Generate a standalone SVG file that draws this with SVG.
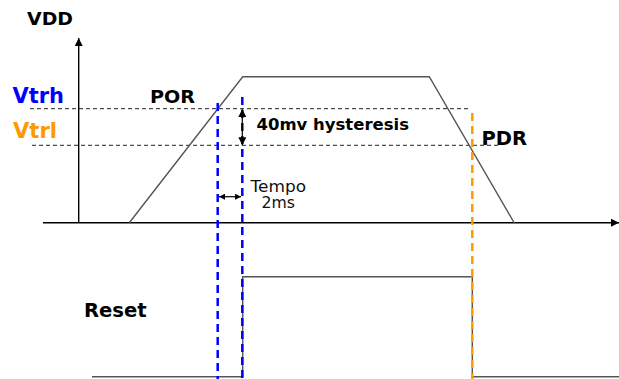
<svg xmlns="http://www.w3.org/2000/svg" width="619" height="379" viewBox="0 0 619 379">
<style>
.b{font-family:"DejaVu Sans",Verdana,sans-serif;font-weight:bold;fill:#000}
.r{font-family:"DejaVu Sans",Verdana,sans-serif;fill:#111}
.ax{stroke:#000;stroke-width:1.4;fill:none}
.sig{stroke:#555;stroke-width:1.4;fill:none}
.th{stroke:#222;stroke-width:1;stroke-dasharray:4 3;fill:none}
.bl{stroke:#0000ff;stroke-width:2.5;stroke-dasharray:8 5;fill:none}
.or{stroke:#ff9900;stroke-width:2.5;stroke-dasharray:8 5;fill:none}
</style>
<defs>
<marker id="ah" viewBox="0 0 10 10" refX="10" refY="5" markerWidth="9" markerHeight="8" markerUnits="userSpaceOnUse" orient="auto-start-reverse"><path d="M0,0L10,5L0,10z" fill="#000"/></marker>
<marker id="ahs" viewBox="0 0 10 10" refX="10" refY="5" markerWidth="6" markerHeight="6" markerUnits="userSpaceOnUse" orient="auto-start-reverse"><path d="M0,0L10,5L0,10z" fill="#000"/></marker>
<marker id="ahv" viewBox="0 0 10 10" refX="10" refY="5" markerWidth="10" markerHeight="8" markerUnits="userSpaceOnUse" orient="auto-start-reverse"><path d="M0,0L10,5L0,10z" fill="#000"/></marker>
</defs>
<rect width="619" height="379" fill="#fff"/>
<g id="axes">
<line class="ax" x1="78.7" y1="223" x2="78.7" y2="38" marker-end="url(#ah)"/>
<line class="ax" x1="43" y1="222.7" x2="619" y2="222.7" marker-end="url(#ah)"/>
<text class="b" x="27" y="25" font-size="18.5" textLength="46" lengthAdjust="spacingAndGlyphs">VDD</text>
</g>
<g id="thresholds">
<line class="th" x1="30" y1="108.7" x2="470" y2="108.7"/>
<line class="th" x1="32" y1="145.3" x2="500" y2="145.3"/>
<text x="12.5" y="103.3" font-size="21" class="b" style="fill:#0000ff" textLength="51.5" lengthAdjust="spacingAndGlyphs">Vtrh</text>
<text x="13" y="137.5" font-size="21" class="b" style="fill:#ff9900" textLength="44" lengthAdjust="spacingAndGlyphs">Vtrl</text>
</g>
<g id="vdd-curve">
<polyline class="sig" points="129.3,222.7 242.7,76.7 429.3,76.7 514.3,223"/>
</g>
<g id="reset-signal">
<polyline class="sig" points="92,376.7 242.7,376.7 242.7,276.7 472.3,276.7 472.3,376.7 619,376.7"/>
<text class="b" x="84" y="317.3" font-size="19.5" textLength="62.7" lengthAdjust="spacingAndGlyphs">Reset</text>
</g>
<g id="markers">
<line class="bl" x1="217.7" y1="103" x2="217.7" y2="379"/>
<line class="bl" x1="242.3" y1="97" x2="242.3" y2="379"/>
<line class="or" x1="472.3" y1="113" x2="472.3" y2="379"/>
</g>
<g id="connectors">
<line stroke="#000" stroke-width="1.2" x1="242.3" y1="109" x2="242.3" y2="145.3" marker-start="url(#ahv)" marker-end="url(#ahv)"/>
<line stroke="#000" stroke-width="1.2" x1="219" y1="196.7" x2="241" y2="196.7" marker-start="url(#ahs)" marker-end="url(#ahs)"/>
</g>
<g id="labels">
<text class="b" x="150" y="102.7" font-size="18.5" textLength="45" lengthAdjust="spacingAndGlyphs">POR</text>
<text class="b" x="481.5" y="145" font-size="19.5" textLength="45.6" lengthAdjust="spacingAndGlyphs">PDR</text>
<text class="b" x="256.5" y="130" font-size="16.4" textLength="152.5" lengthAdjust="spacingAndGlyphs">40mv hysteresis</text>
<text class="r" x="250.5" y="191.7" font-size="15.5" textLength="55.5" lengthAdjust="spacingAndGlyphs">Tempo</text>
<text class="r" x="261.5" y="208" font-size="15.5" textLength="33.5" lengthAdjust="spacingAndGlyphs">2ms</text>
</g>
</svg>
